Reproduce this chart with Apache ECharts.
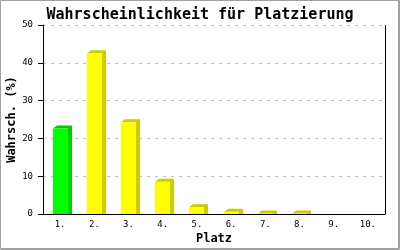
<!DOCTYPE html>
<html>
<head>
<meta charset="utf-8">
<script src="https://cdn.jsdelivr.net/npm/echarts@6/dist/echarts.min.js"></script>
<style>
html,body{margin:0;padding:0;background:#fff;}
#c{width:400px;height:250px;}
</style>
</head>
<body>
<div id="c"></div>
<script>
var categories = ['1.', '2.', '3.', '4.', '5.', '6.', '7.', '8.', '9.', '10.'];
var values = [22.6, 42.5, 24.3, 8.5, 1.8, 0.6, 0.1, 0.1, 0, 0];
var highlightIndex = [0];
var yTicks = [0, 10, 20, 30, 40, 50];

var FRONT = '#ffff00', SIDE = '#cccc00';
var FRONT_HI = '#00ff00', SIDE_HI = '#00cc00';
var MONO = '"DejaVu Sans Mono", "Liberation Mono", monospace';

var chart = echarts.init(document.getElementById('c'), null, {renderer: 'canvas'});

function renderItem(params, api) {
  var idx = api.value(0);
  var val = api.value(1);
  if (!(val > 0)) return null;
  var top = api.coord([idx, val]);
  var base = api.coord([idx, 0]);
  var bw = 15;
  var x0 = Math.round(top[0] - bw / 2);
  var x1 = x0 + bw;
  var yT = top[1];
  var yB = base[1];
  var dx = 4, dy = 3;
  var hi = highlightIndex.indexOf(idx) >= 0;
  return {
    type: 'group',
    children: [
      {
        type: 'polygon',
        shape: {points: [[x0, yT], [x0 + dx, yT - dy], [x1 + dx, yT - dy], [x1 + dx, yB], [x1, yB], [x1, yT]]},
        style: {fill: hi ? SIDE_HI : SIDE}
      },
      {
        type: 'rect',
        shape: {x: x0, y: yT, width: bw, height: yB - yT},
        style: {fill: hi ? FRONT_HI : FRONT}
      }
    ]
  };
}

var option = {
  animation: false,
  backgroundColor: '#ffffff',
  title: {
    text: 'Wahrscheinlichkeit für Platzierung',
    left: 'center',
    top: 3,
    textStyle: {fontFamily: MONO, fontWeight: 'bold', fontSize: 15, color: '#000'}
  },
  grid: {left: 43, right: 15, top: 25, bottom: 36, containLabel: false, outerBoundsMode: 'none'},
  xAxis: {
    type: 'category',
    data: categories,
    name: 'Platz',
    nameLocation: 'middle',
    nameGap: 19,
    nameMoveOverlap: false,
    nameTextStyle: {fontFamily: MONO, fontWeight: 'bold', fontSize: 12, color: '#000'},
    axisLine: {lineStyle: {color: '#000', width: 1}},
    axisTick: {show: false},
    axisLabel: {fontFamily: MONO, fontSize: 9, color: '#000', margin: 6},
    splitLine: {show: false}
  },
  yAxis: {
    type: 'value',
    min: 0,
    max: 50,
    interval: 10,
    name: 'Wahrsch. (%)',
    nameLocation: 'middle',
    nameGap: 25,
    nameMoveOverlap: false,
    nameRotate: 90,
    nameTextStyle: {fontFamily: MONO, fontWeight: 'bold', fontSize: 12, color: '#000'},
    axisLine: {show: true, lineStyle: {color: '#000', width: 1}},
    axisTick: {show: true, length: 5, lineStyle: {color: '#000'}},
    axisLabel: {fontFamily: MONO, fontSize: 9, color: '#000', margin: 10,
      formatter: function (v) { return yTicks.indexOf(v) >= 0 ? String(v) : ''; }},
    splitLine: {show: true, lineStyle: {color: '#c0c0c0', type: [3, 5], width: 1}}
  },
  graphic: [
    {type: 'rect', shape: {x: 0.5, y: 0.5, width: 398, height: 248}, style: {fill: 'none', stroke: '#a0a0a0', lineWidth: 1}, z: 100},
    {type: 'rect', shape: {x: 0.5, y: 0.5, width: 399, height: 249}, style: {fill: 'none', stroke: '#a0a0a0', lineWidth: 1}, z: 100},
    {type: 'line', shape: {x1: 385.5, y1: 25, x2: 385.5, y2: 214}, style: {stroke: '#000', lineWidth: 1}, z: 50}
  ],
  series: [{
    type: 'custom',
    renderItem: renderItem,
    encode: {x: 0, y: 1},
    data: values.map(function (v, i) { return [i, v]; })
  }]
};
chart.setOption(option);
</script>
</body>
</html>
